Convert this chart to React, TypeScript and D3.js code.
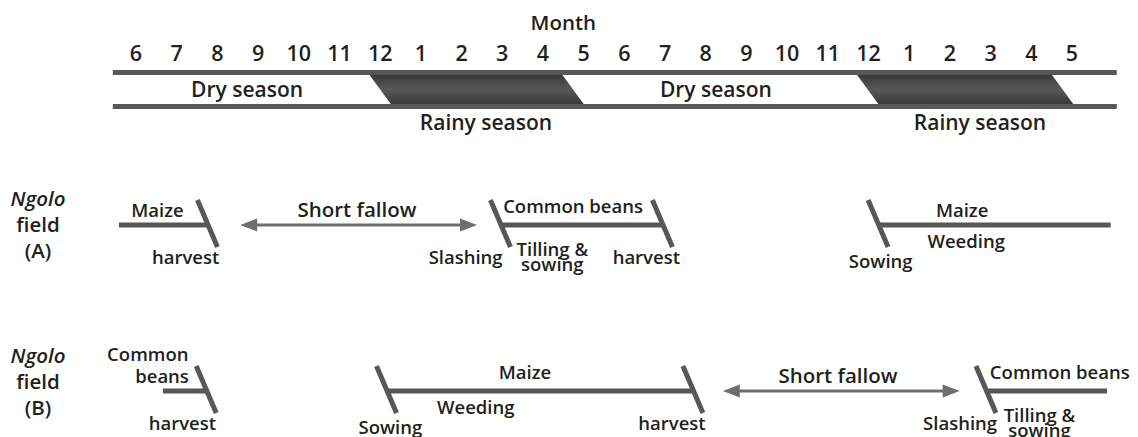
import React from "react";
import * as d3 from "d3";

// ---------- data ----------
const months = ["6","7","8","9","10","11","12","1","2","3","4","5","6","7","8","9","10","11","12","1","2","3","4","5"];
const bandExtent = [-0.57, 24.1];
const rainySeasons = [
  { start: 5.73, end: 10.47 },
  { start: 17.71, end: 22.5 },
];
const rainySlant = 0.54;
const dryLabels = [2.73, 14.25];
const rainyLabels = [8.6, 20.74];

const rowAName = ["Ngolo", "field", "(A)"];
const rowBName = ["Ngolo", "field", "(B)"];

const cropLinesA = [
  { from: -0.42, to: 1.77 },
  { from: 8.97, to: 12.95 },
  { from: 18.25, to: 23.95 },
];
const ticksA = [1.77, 8.97, 12.95, 18.25];
const fallowA = [{ from: 2.56, to: 8.38 }];
const labelsA = [
  { text: "Maize", at: 0.53, level: "above" },
  { text: "harvest", at: 1.22, level: "below" },
  { text: "Short fallow", at: 5.43, level: "fallow" },
  { text: "Slashing", at: 8.1, level: "below" },
  { text: "Common beans", at: 10.74, level: "aboveHigh" },
  { text: "Tilling &", at: 10.23, level: "stack1" },
  { text: "sowing", at: 10.23, level: "stack2" },
  { text: "harvest", at: 12.54, level: "below" },
  { text: "Maize", at: 20.3, level: "above" },
  { text: "Weeding", at: 20.4, level: "near" },
  { text: "Sowing", at: 18.3, level: "far" },
];

const cropLinesB = [
  { from: 0.66, to: 1.74 },
  { from: 6.17, to: 13.7 },
  { from: 20.9, to: 23.86 },
];
const ticksB = [1.74, 6.17, 13.7, 20.9];
const fallowB = [{ from: 14.42, to: 20.24 }];
const labelsB = [
  { text: "Common", at: 0.29, level: "above2" },
  { text: "beans", at: 0.64, level: "above" },
  { text: "harvest", at: 1.14, level: "below" },
  { text: "Sowing", at: 6.25, level: "far" },
  { text: "Weeding", at: 8.35, level: "near" },
  { text: "Maize", at: 9.56, level: "aboveHigh" },
  { text: "harvest", at: 13.17, level: "below" },
  { text: "Short fallow", at: 17.25, level: "fallow" },
  { text: "Slashing", at: 20.25, level: "below" },
  { text: "Common beans", at: 22.7, level: "aboveHigh" },
  { text: "Tilling &", at: 22.2, level: "stack1" },
  { text: "sowing", at: 22.2, level: "stack2" },
];

// ---------- layout / style ----------
const W = 1138, H = 437;
const FONT = "'Open Sans', 'Liberation Sans', sans-serif";
const TEXT = "#231f20";
const LINE = "#575757";
const ARROW = "#6e6e6e";
const WEIGHT = 600;
const LEVEL_DY: Record<string, number> = {
  above: -8, above2: -30, aboveHigh: -12, fallow: -8,
  below: 39, near: 23, far: 43, stack1: 31, stack2: 46,
};

export default function App() {
  const x = d3.scaleLinear().domain([0, 23]).range([136, 1072]);
  const bandTop = 72.5, bandBot = 106.5;

  const para = (s: { start: number; end: number }) => {
    const p = d3.path();
    p.moveTo(x(s.start), bandTop + 2);
    p.lineTo(x(s.end), bandTop + 2);
    p.lineTo(x(s.end + rainySlant), bandBot - 2);
    p.lineTo(x(s.start + rainySlant), bandBot - 2);
    p.closePath();
    return p.toString();
  };

  const renderRow = (
    y: number,
    lines: { from: number; to: number }[],
    ticks: number[],
    fallow: { from: number; to: number }[],
    labels: { text: string; at: number; level: string }[],
    name: string[],
    nameY: number,
    key: string
  ) => {
    const tickPath = (t: number) => {
      const cx = x(t);
      return d3.line()([[cx - 10.6, y - 25], [cx + 9.4, y + 22]]) as string;
    };
    const arrowHead = (tipX: number, dir: number) => {
      const p = d3.path();
      p.moveTo(tipX, y);
      p.lineTo(tipX - dir * 17, y - 6.5);
      p.lineTo(tipX - dir * 17, y + 6.5);
      p.closePath();
      return p.toString();
    };
    return (
      <g key={key}>
        <text x={38} y={nameY - 26} textAnchor="middle" fontStyle="italic" fontSize={20.5} fill={TEXT} fontFamily={FONT} fontWeight={WEIGHT}>{name[0]}</text>
        <text x={38} y={nameY} textAnchor="middle" fontSize={20.5} fill={TEXT} fontFamily={FONT} fontWeight={WEIGHT}>{name[1]}</text>
        <text x={38} y={nameY + 26} textAnchor="middle" fontSize={20.5} fill={TEXT} fontFamily={FONT} fontWeight={WEIGHT}>{name[2]}</text>
        {lines.map((l, i) => (
          <line key={"l" + i} x1={x(l.from)} x2={x(l.to)} y1={y} y2={y} stroke={LINE} strokeWidth={5} />
        ))}
        {ticks.map((t, i) => (
          <path key={"t" + i} d={tickPath(t)} stroke={LINE} strokeWidth={5} fill="none" />
        ))}
        {fallow.map((f, i) => (
          <g key={"f" + i}>
            <line x1={x(f.from) + 10} x2={x(f.to) - 10} y1={y} y2={y} stroke={ARROW} strokeWidth={3} />
            <path d={arrowHead(x(f.from), -1)} fill={ARROW} />
            <path d={arrowHead(x(f.to), 1)} fill={ARROW} />
          </g>
        ))}
        {labels.map((lb, i) => (
          <text
            key={"x" + i}
            x={x(lb.at)}
            y={y + LEVEL_DY[lb.level]}
            textAnchor="middle"
            fontSize={lb.level === "fallow" ? 20.5 : 18.5}
            fill={TEXT}
            fontFamily={FONT}
            fontWeight={WEIGHT}
          >
            {lb.text}
          </text>
        ))}
      </g>
    );
  };

  return (
    <svg width={W} height={H} style={{ position: "absolute", left: 0, top: 0, display: "block", background: "#fff" }}>
      <defs>
        <linearGradient id="rainGrad" x1="0" y1="0" x2="0" y2="1">
          <stop offset="0%" stopColor="#383838" />
          <stop offset="50%" stopColor="#585858" />
          <stop offset="100%" stopColor="#383838" />
        </linearGradient>
      </defs>
      <text x={x(10.5)} y={30} textAnchor="middle" fontSize={20.5} fill={TEXT} fontFamily={FONT} fontWeight={WEIGHT}>Month</text>
      {months.map((m, i) => (
        <text key={"m" + i} x={x(i)} y={61} textAnchor="middle" fontSize={21.5} fill={TEXT} fontFamily={FONT} fontWeight={WEIGHT}>{m}</text>
      ))}
      {rainySeasons.map((s, i) => (
        <path key={"r" + i} d={para(s)} fill="url(#rainGrad)" />
      ))}
      <line x1={x(bandExtent[0])} x2={x(bandExtent[1])} y1={bandTop} y2={bandTop} stroke={LINE} strokeWidth={5} />
      <line x1={x(bandExtent[0])} x2={x(bandExtent[1])} y1={bandBot} y2={bandBot} stroke={LINE} strokeWidth={5} />
      {dryLabels.map((d, i) => (
        <text key={"d" + i} x={x(d)} y={97} textAnchor="middle" fontSize={21} fill={TEXT} fontFamily={FONT} fontWeight={WEIGHT}>Dry season</text>
      ))}
      {rainyLabels.map((d, i) => (
        <text key={"rl" + i} x={x(d)} y={130} textAnchor="middle" fontSize={21} fill={TEXT} fontFamily={FONT} fontWeight={WEIGHT}>Rainy season</text>
      ))}
      {renderRow(225, cropLinesA, ticksA, fallowA, labelsA, rowAName, 232, "A")}
      {renderRow(391, cropLinesB, ticksB, fallowB, labelsB, rowBName, 389, "B")}
    </svg>
  );
}
